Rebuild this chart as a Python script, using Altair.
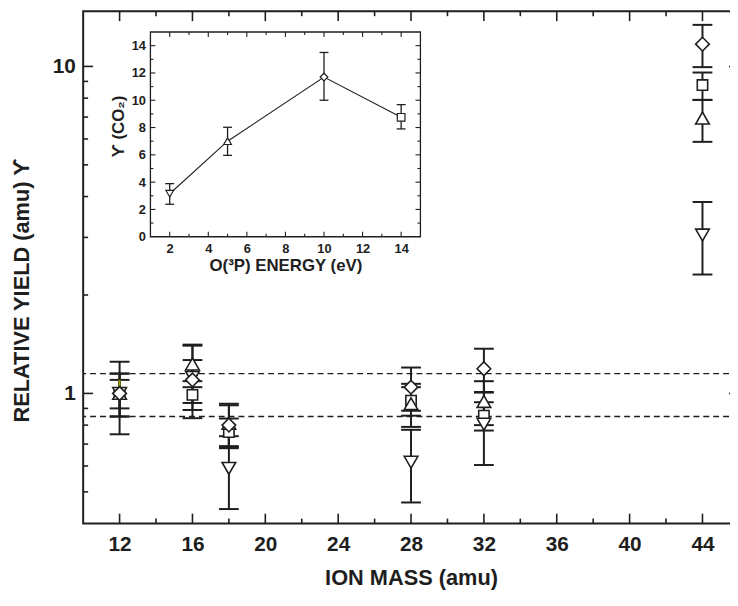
import altair as alt
import pandas as pd

# ---------------- main panel data ----------------
masses = [12, 16, 18, 28, 32, 44]
series_names = ["2 eV", "5 eV", "10 eV", "14 eV"]
series_shapes = ["triangle-down", "triangle-up", "diamond", "square"]

y_2ev = [1.00, 1.12, 0.590, 0.616, 0.805, 3.05]
lo_2ev = [0.75, 0.84, 0.443, 0.464, 0.604, 2.31]
hi_2ev = [1.25, 1.40, 0.740, 0.774, 1.006, 3.85]

y_5ev = [1.00, 1.23, 0.81, 0.93, 0.945, 6.95]
lo_5ev = [0.85, 1.045, 0.69, 0.79, 0.80, 5.88]
hi_5ev = [1.15, 1.41, 0.93, 1.07, 1.09, 7.90]

y_10ev = [1.00, 1.10, 0.80, 1.045, 1.19, 11.7]
lo_10ev = [0.85, 0.935, 0.68, 0.885, 1.01, 9.95]
hi_10ev = [1.15, 1.265, 0.92, 1.20, 1.37, 13.4]

y_14ev = [1.00, 0.99, 0.762, 0.95, 0.855, 8.77]
lo_14ev = [0.90, 0.89, 0.686, 0.855, 0.77, 7.90]
hi_14ev = [1.10, 1.09, 0.838, 1.045, 0.94, 9.58]

ref_lines = [0.85, 1.15]
olive_mass = [12]
olive_lo = [1.045]
olive_hi = [1.10]

x_label_values = [12, 16, 20, 24, 28, 32, 36, 40, 44]
x_minor_values = [14, 18, 22, 26, 30, 34, 38, 42]
y_major_values = [1, 10]
y_minor_values = [0.5, 0.6, 0.7, 0.8, 0.9, 2, 3, 4, 5, 6, 7, 8, 9]

# ---------------- inset data ----------------
energies = [2, 5, 10, 14]
yco2 = [3.15, 7.0, 11.7, 8.75]
yco2_lo = [2.38, 5.96, 10.0, 7.9]
yco2_hi = [3.89, 8.02, 13.5, 9.68]
ix_major = [2, 4, 6, 8, 10, 12, 14]
ix_minor = [3, 5, 7, 9, 11, 13]
iy_major = [0, 2, 4, 6, 8, 10, 12, 14]
iy_minor = [1, 3, 5, 7, 9, 11, 13]

# ---------------- tables ----------------
rows = []
for name, ys, los, his in [
    ("2 eV", y_2ev, lo_2ev, hi_2ev),
    ("5 eV", y_5ev, lo_5ev, hi_5ev),
    ("10 eV", y_10ev, lo_10ev, hi_10ev),
    ("14 eV", y_14ev, lo_14ev, hi_14ev),
]:
    for m, v, lo, hi in zip(masses, ys, los, his):
        rows.append({"mass": m, "series": name, "y": v, "lo": lo, "hi": hi})
df_main = pd.DataFrame(rows)

df_inset = pd.DataFrame({"e": energies, "y": yco2, "lo": yco2_lo, "hi": yco2_hi,
                         "series": ["2 eV", "5 eV", "10 eV", "14 eV"]})

W, H = 663, 518
FONT = "Liberation Sans"
INK = "#1e1e1e"

# inset placement (plot coordinates)
IX0, IX1 = 68, 341
IY0, IY1 = 228, 21

xsc = alt.Scale(domain=[10, 46], nice=False, zero=False)
ysc = alt.Scale(type="log", domain=[0.4, 14.75], nice=False)
shape_sc = alt.Scale(domain=series_names, range=series_shapes)

x_axis = alt.Axis(values=x_label_values, ticks=False, domain=False, grid=False,
                  labelFont=FONT, labelFontSize=21, labelFontWeight="bold", labelColor=INK,
                  labelPadding=10, labelFlush=False,
                  title="ION MASS (amu)", titleFont=FONT, titleFontSize=22,
                  titleFontWeight="bold", titleColor=INK, titleY=55, titleBaseline="middle")
y_axis = alt.Axis(values=y_major_values, format="~g", ticks=False, domain=False, grid=False,
                  labelFont=FONT, labelFontSize=21, labelFontWeight="bold", labelColor=INK,
                  labelPadding=8,
                  title="RELATIVE YIELD (amu)  ϒ", titleFont=FONT, titleFontSize=22,
                  titleFontWeight="bold", titleColor=INK, titleX=-62, titleY=282,
                  titleAngle=270, titleBaseline="middle")


def MX(field="mass"):
    return alt.X(f"{field}:Q", scale=xsc, axis=x_axis)


def MY(field="y"):
    return alt.Y(f"{field}:Q", scale=ysc, axis=y_axis)


dashed = alt.Chart(pd.DataFrame({"y": ref_lines})).mark_rule(
    strokeDash=[6, 4], strokeWidth=1.4, color=INK).encode(y=MY("y"))

stems = alt.Chart(df_main).mark_rule(strokeWidth=2, color=INK).encode(
    x=MX(), y=MY("lo"), y2="hi")
caps_hi = alt.Chart(df_main).mark_rule(strokeWidth=2, color=INK, xOffset=-10, x2Offset=10).encode(
    x=MX(), x2="mass", y=MY("hi"))
caps_lo = alt.Chart(df_main).mark_rule(strokeWidth=2, color=INK, xOffset=-10, x2Offset=10).encode(
    x=MX(), x2="mass", y=MY("lo"))
olive = alt.Chart(pd.DataFrame({"mass": olive_mass, "lo": olive_lo, "hi": olive_hi})).mark_rule(
    strokeWidth=2, color="#a3a300").encode(x=MX(), y=MY("lo"), y2="hi")

points_sq = alt.Chart(df_main).transform_filter(alt.datum.series == "14 eV").mark_point(
    filled=True, fill="white", stroke=INK, strokeWidth=1.6, opacity=1, size=110).encode(
    x=MX(), y=MY("y"), shape=alt.Shape("series:N", scale=shape_sc, legend=None))
points_other = alt.Chart(df_main).transform_filter(alt.datum.series != "14 eV").mark_point(
    filled=True, fill="white", stroke=INK, strokeWidth=1.6, opacity=1, size=190).encode(
    x=MX(), y=MY("y"), shape=alt.Shape("series:N", scale=shape_sc, legend=None))

dfx_major = pd.DataFrame({"mass": x_label_values})
dfx_minor = pd.DataFrame({"mass": x_minor_values})
dfy_major = pd.DataFrame({"y": y_major_values})
dfy_minor = pd.DataFrame({"y": y_minor_values})

tick_layers = [
    alt.Chart(dfx_major).mark_rule(strokeWidth=1.6, color=INK).encode(x=MX(), y=alt.value(H), y2=alt.value(H - 10)),
    alt.Chart(dfx_minor).mark_rule(strokeWidth=1.6, color=INK).encode(x=MX(), y=alt.value(H), y2=alt.value(H - 5)),
    alt.Chart(dfx_major).mark_rule(strokeWidth=1.6, color=INK).encode(x=MX(), y=alt.value(0), y2=alt.value(10)),
    alt.Chart(dfx_minor).mark_rule(strokeWidth=1.6, color=INK).encode(x=MX(), y=alt.value(0), y2=alt.value(5)),
    alt.Chart(dfy_major).mark_rule(strokeWidth=1.6, color=INK).encode(y=MY(), x=alt.value(0), x2=alt.value(10)),
    alt.Chart(dfy_minor).mark_rule(strokeWidth=1.6, color=INK).encode(y=MY(), x=alt.value(0), x2=alt.value(5)),
    alt.Chart(dfy_major).mark_rule(strokeWidth=1.6, color=INK).encode(y=MY(), x=alt.value(W), x2=alt.value(W - 10)),
    alt.Chart(dfy_minor).mark_rule(strokeWidth=1.6, color=INK).encode(y=MY(), x=alt.value(W), x2=alt.value(W - 5)),
]

main = alt.layer(dashed, stems, caps_hi, caps_lo, olive, points_sq, points_other, *tick_layers)

# ---------------- inset ----------------
ixsc = alt.Scale(domain=[1, 15], range=[IX0, IX1], nice=False, zero=False)
iysc = alt.Scale(domain=[0, 15], range=[IY0, IY1], nice=False, zero=False)

ix_axis = alt.Axis(orient="bottom", offset=-(H - IY0), values=ix_major, ticks=False,
                   domain=False, grid=False, labelFont=FONT, labelFontSize=13,
                   labelFontWeight="bold", labelColor=INK, labelPadding=6, labelFlush=False,
                   title="O(³P) ENERGY (eV)", titleFont=FONT, titleFontSize=17,
                   titleFontWeight="bold", titleColor=INK, titleY=29, titleBaseline="middle")
iy_axis = alt.Axis(orient="left", offset=-IX0, values=iy_major, ticks=False, domain=False,
                   grid=False, labelFont=FONT, labelFontSize=13, labelFontWeight="bold",
                   labelColor=INK, labelPadding=5, labelFlush=False,
                   title="ϒ (CO₂)", titleFont=FONT, titleFontSize=17, titleFontWeight="bold",
                   titleColor=INK, titleX=-32, titleY=116, titleAngle=270,
                   titleBaseline="middle")


def IX(field="e"):
    return alt.X(f"{field}:Q", scale=ixsc, axis=ix_axis)


def IY(field="y"):
    return alt.Y(f"{field}:Q", scale=iysc, axis=iy_axis)


frame = alt.Chart(pd.DataFrame({"e": [1], "e2": [15], "y": [0], "y2": [15]})).mark_rect(
    filled=False, stroke=INK, strokeWidth=1.3).encode(x=IX("e"), x2="e2", y=IY("y"), y2="y2")
iline = alt.Chart(df_inset).mark_line(color=INK, strokeWidth=1.1).encode(x=IX(), y=IY())
istem = alt.Chart(df_inset).mark_rule(color=INK, strokeWidth=1.3).encode(x=IX(), y=IY("lo"), y2="hi")
icap_hi = alt.Chart(df_inset).mark_rule(color=INK, strokeWidth=1.3, xOffset=-4.5, x2Offset=4.5).encode(
    x=IX(), x2="e", y=IY("hi"))
icap_lo = alt.Chart(df_inset).mark_rule(color=INK, strokeWidth=1.3, xOffset=-4.5, x2Offset=4.5).encode(
    x=IX(), x2="e", y=IY("lo"))
ipts = alt.Chart(df_inset).mark_point(filled=True, fill="white", stroke=INK, strokeWidth=1.2,
                                      opacity=1, size=60).encode(
    x=IX(), y=IY(), shape=alt.Shape("series:N", scale=shape_sc, legend=None))

dix_major = pd.DataFrame({"e": ix_major})
dix_minor = pd.DataFrame({"e": ix_minor})
diy_major = pd.DataFrame({"y": iy_major[1:]})
diy_minor = pd.DataFrame({"y": iy_minor})

itick_layers = [
    alt.Chart(dix_major).mark_rule(strokeWidth=1.1, color=INK).encode(x=IX(), y=alt.value(IY0), y2=alt.value(IY0 - 5)),
    alt.Chart(dix_minor).mark_rule(strokeWidth=1.1, color=INK).encode(x=IX(), y=alt.value(IY0), y2=alt.value(IY0 - 3)),
    alt.Chart(dix_major).mark_rule(strokeWidth=1.1, color=INK).encode(x=IX(), y=alt.value(IY1), y2=alt.value(IY1 + 5)),
    alt.Chart(dix_minor).mark_rule(strokeWidth=1.1, color=INK).encode(x=IX(), y=alt.value(IY1), y2=alt.value(IY1 + 3)),
    alt.Chart(diy_major).mark_rule(strokeWidth=1.1, color=INK).encode(y=IY(), x=alt.value(IX0), x2=alt.value(IX0 + 5)),
    alt.Chart(diy_minor).mark_rule(strokeWidth=1.1, color=INK).encode(y=IY(), x=alt.value(IX0), x2=alt.value(IX0 + 3)),
    alt.Chart(diy_major).mark_rule(strokeWidth=1.1, color=INK).encode(y=IY(), x=alt.value(IX1), x2=alt.value(IX1 - 5)),
    alt.Chart(diy_minor).mark_rule(strokeWidth=1.1, color=INK).encode(y=IY(), x=alt.value(IX1), x2=alt.value(IX1 - 3)),
]

inset = alt.layer(frame, iline, istem, icap_hi, icap_lo, ipts, *itick_layers)

chart = alt.layer(main, inset).resolve_scale(
    x="independent", y="independent"
).properties(
    width=W, height=H,
    autosize=alt.AutoSizeParams(type="none"),
    padding={"left": 76, "top": 0, "right": -9, "bottom": 72},
    background="white",
).configure_view(stroke=INK, strokeWidth=2).configure_axis(grid=False)

chart.save("out.html", embed_options={"renderer": "svg", "actions": False})
